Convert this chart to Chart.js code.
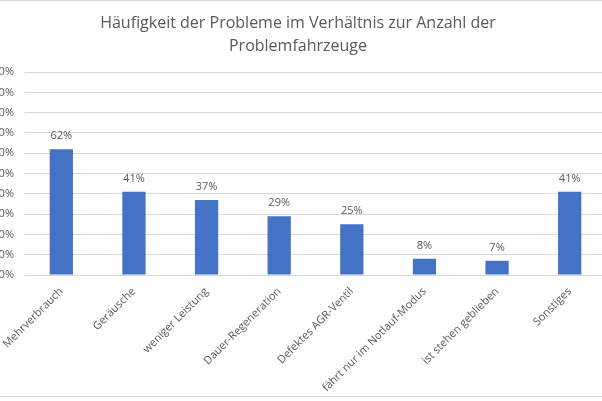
<!DOCTYPE html>
<html>
<head>
<meta charset="utf-8">
<script src="https://cdn.jsdelivr.net/npm/chart.js@4.4.0/dist/chart.umd.min.js"></script>
<style>
  html, body { margin: 0; padding: 0; width: 602px; height: 401px; overflow: hidden; background: #fff; }
  #frame { position: absolute; left: 0; top: 0; width: 602px; height: 397px; border-top: 1px solid #d9d9d9; border-bottom: 1px solid #d9d9d9; box-sizing: border-box; }
  #wrap { position: absolute; left: -10px; top: 0; width: 616px; height: 401px; }
</style>
</head>
<body>
<div id="frame"></div>
<div id="wrap"><canvas id="problemChart"></canvas></div>
<script>
var categories = ['Mehrverbrauch', 'Geräusche', 'weniger Leistung', 'Dauer-Regeneration',
    'Defektes AGR-Ventil', 'fährt nur im Notlauf-Modus', 'ist stehen geblieben', 'Sonstiges'];
var shares = [62, 41, 37, 29, 25, 8, 7, 41];
var yTicks = [0, 10, 20, 30, 40, 50, 60, 70, 80, 90, 100];

var textGray = '#595959';

// Prozentwerte über die Balken schreiben
var valueLabels = {
    id: 'valueLabels',
    afterDatasetsDraw: function(chart) {
        var ctx = chart.ctx;
        var meta = chart.getDatasetMeta(0);
        ctx.save();
        ctx.font = '11px "Open Sans"';
        ctx.fillStyle = textGray;
        ctx.textAlign = 'center';
        ctx.textBaseline = 'middle';
        meta.data.forEach(function(bar, i) {
            ctx.fillText(shares[i] + '%', bar.x, bar.y - 13);
        });
        ctx.restore();
    }
};

var ctx = document.getElementById('problemChart').getContext('2d');
new Chart(ctx, {
    type: 'bar',
    data: {
        labels: categories,
        datasets: [{
            data: shares,
            backgroundColor: '#4472c4',
            barPercentage: 0.64,
            categoryPercentage: 0.5
        }]
    },
    options: {
        responsive: true,
        maintainAspectRatio: false,
        animation: false,
        layout: { padding: 0 },
        plugins: {
            legend: { display: false },
            tooltip: { enabled: false },
            title: {
                display: true,
                text: ['Häufigkeit der Probleme im Verhältnis zur Anzahl der', 'Problemfahrzeuge'],
                color: textGray,
                font: { family: 'Open Sans', size: 16, weight: 'normal', lineHeight: 1.44 },
                padding: { top: 12, bottom: 14 }
            }
        },
        scales: {
            x: {
                grid: { display: false },
                border: { display: false },
                ticks: {
                    color: textGray,
                    font: { family: 'Open Sans', size: 11 },
                    autoSkip: false,
                    minRotation: 45,
                    maxRotation: 45,
                    padding: 2
                },
                afterFit: function(scale) { scale.height = 126; }
            },
            y: {
                min: 0,
                max: 100,
                afterBuildTicks: function(scale) {
                    scale.ticks = yTicks.map(function(v) { return { value: v }; });
                },
                grid: { color: '#d9d9d9', drawTicks: false },
                border: { display: false },
                ticks: {
                    color: textGray,
                    font: { family: 'Open Sans', size: 11 },
                    padding: 11,
                    callback: function(v) { return v + '%'; }
                },
                afterFit: function(scale) { scale.width = 35; }
            }
        }
    },
    plugins: [valueLabels]
});
</script>
</body>
</html>
